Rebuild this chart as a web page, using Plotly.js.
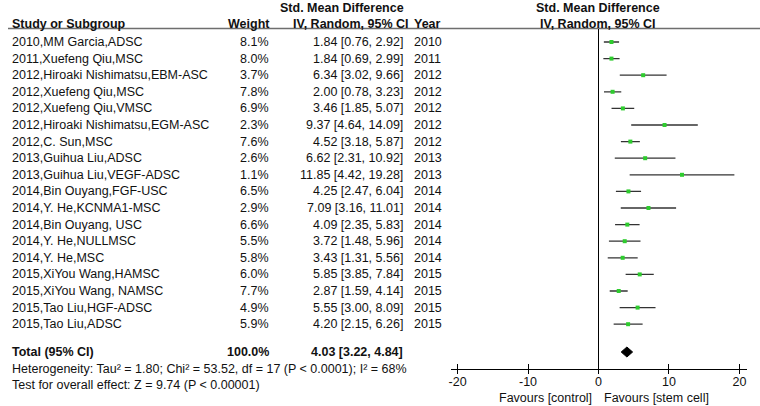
<!DOCTYPE html>
<html>
<head>
<meta charset="utf-8">
<script src="https://cdn.plot.ly/plotly-3.0.1.min.js"></script>
<style>html,body{margin:0;padding:0;background:#fff;} #chart{width:760px;height:406px;}</style>
</head>
<body>
<div id="chart"></div>
<script>
// ---- DATA ----
const studies = [
  "2010,MM Garcia,ADSC",
  "2011,Xuefeng Qiu,MSC",
  "2012,Hiroaki Nishimatsu,EBM-ASC",
  "2012,Xuefeng Qiu,MSC",
  "2012,Xuefeng Qiu,VMSC",
  "2012,Hiroaki Nishimatsu,EGM-ASC",
  "2012,C. Sun,MSC",
  "2013,Guihua Liu,ADSC",
  "2013,Guihua Liu,VEGF-ADSC",
  "2014,Bin Ouyang,FGF-USC",
  "2014,Y. He,KCNMA1-MSC",
  "2014,Bin Ouyang, USC",
  "2014,Y. He,NULLMSC",
  "2014,Y. He,MSC",
  "2015,XiYou Wang,HAMSC",
  "2015,XiYou Wang, NAMSC",
  "2015,Tao Liu,HGF-ADSC",
  "2015,Tao Liu,ADSC"
];
const weights = [8.1, 8.0, 3.7, 7.8, 6.9, 2.3, 7.6, 2.6, 1.1, 6.5, 2.9, 6.6, 5.5, 5.8, 6.0, 7.7, 4.9, 5.9];
const smd     = [1.84, 1.84, 6.34, 2.00, 3.46, 9.37, 4.52, 6.62, 11.85, 4.25, 7.09, 4.09, 3.72, 3.43, 5.85, 2.87, 5.55, 4.20];
const ciLow   = [0.76, 0.69, 3.02, 0.78, 1.85, 4.64, 3.18, 2.31, 4.42, 2.47, 3.16, 2.35, 1.48, 1.31, 3.85, 1.59, 3.00, 2.15];
const ciHigh  = [2.92, 2.99, 9.66, 3.23, 5.07, 14.09, 5.87, 10.92, 19.28, 6.04, 11.01, 5.83, 5.96, 5.56, 7.84, 4.14, 8.09, 6.26];
const years   = [2010, 2011, 2012, 2012, 2012, 2012, 2012, 2013, 2013, 2014, 2014, 2014, 2014, 2014, 2015, 2015, 2015, 2015];
const totalLabel = "Total (95% CI)";
const totalWeight = 100.0;
const totalSmd = 4.03, totalLow = 3.22, totalHigh = 4.84;
const heterogeneityText = "Heterogeneity: Tau² = 1.80; Chi² = 53.52, df = 17 (P < 0.0001); I² = 68%";
const overallText = "Test for overall effect: Z = 9.74 (P < 0.00001)";
const tickValues = [-20, -10, 0, 10, 20];
const tickLabels = ["-20", "-10", "0", "10", "20"];
const favourLeft = "Favours [control]";
const favourRight = "Favours [stem cell]";
const headerTop = "Std. Mean Difference";
const headerSub = "IV, Random, 95% CI";
const headerStudy = "Study or Subgroup";
const headerWeight = "Weight";
const headerYear = "Year";

// ---- LAYOUT HELPERS ----
const W = 760, H = 406;
const ROW0 = 42, ROWH = 16.6;           // pixel centre of first row, row pitch
const rowOf = p => (p - ROW0) / ROWH;    // pixel y -> row coordinate
const AXIS_PX = 369;
const FONT = "Liberation Sans, Arial, Helvetica, sans-serif";
const FS = 12.5;
const TXT = "#111111";
const rows = studies.map((_, i) => i);
const totalRow = rowOf(352);
const px = v => v / W;
const fmt2 = v => v.toFixed(2);
const ciText = (e, l, h) => fmt2(e) + " [" + fmt2(l) + ", " + fmt2(h) + "]";

const ann = [];
function addText(text, x, y, anchor, opts) {
  opts = opts || {};
  ann.push({
    text: opts.bold ? "<b>" + text + "</b>" : text,
    x: px(x), xref: "paper", y: y, yref: "y",
    xanchor: anchor, yanchor: "middle", showarrow: false,
    borderpad: 0, borderwidth: 0,
    font: {family: FONT, size: opts.size || FS, color: TXT}
  });
}
// headers
addText(headerTop, 342, rowOf(8), "center", {bold: true});
addText(headerStudy, 12, rowOf(24), "left", {bold: true});
addText(headerWeight, 270, rowOf(24), "right", {bold: true});
addText(headerSub, 409, rowOf(24), "right", {bold: true});
addText(headerYear, 414, rowOf(24), "left", {bold: true});
addText(headerTop, 598, rowOf(8), "center", {bold: true});
addText(headerSub, 598, rowOf(24), "center", {bold: true});
// rows
rows.forEach(i => {
  addText(studies[i], 12, i, "left");
  addText(weights[i].toFixed(1) + "%", 269, i, "right");
  addText(ciText(smd[i], ciLow[i], ciHigh[i]), 403, i, "right");
  addText(String(years[i]), 414, i, "left");
});
// total + footers
addText(totalLabel, 12, totalRow, "left", {bold: true});
addText(totalWeight.toFixed(1) + "%", 269, totalRow, "right", {bold: true});
addText(ciText(totalSmd, totalLow, totalHigh), 403, totalRow, "right", {bold: true});
addText(heterogeneityText, 12, rowOf(368.5), "left");
addText(overallText, 12, rowOf(385), "left");
addText(favourLeft, 592, rowOf(398), "right");
addText(favourRight, 604, rowOf(398), "left");

// ---- TRACES ----
const studyTrace = {
  type: "scatter", mode: "markers",
  x: smd, y: rows,
  marker: {symbol: "square", size: 4, color: "#2ecc2e", line: {width: 0}},
  error_x: {
    type: "data", symmetric: false,
    array: smd.map((v, i) => ciHigh[i] - v),
    arrayminus: smd.map((v, i) => v - ciLow[i]),
    width: 0, thickness: 1.3, color: "#333333"
  },
  hoverinfo: "skip", cliponaxis: false, showlegend: false
};
const dh = 5 / ROWH;
const diamond = {
  type: "scatter", mode: "lines",
  x: [totalLow, totalSmd, totalHigh, totalSmd, totalLow],
  y: [totalRow, totalRow - dh, totalRow, totalRow + dh, totalRow],
  fill: "toself", fillcolor: "#000000",
  line: {color: "#000000", width: 1},
  hoverinfo: "skip", cliponaxis: false, showlegend: false
};
const ghost = {type: "scatter", mode: "markers", x: [0], y: [0], xaxis: "x2", yaxis: "y",
  marker: {opacity: 0}, hoverinfo: "skip", showlegend: false};

const domainX = [450.5 / W, 746.5 / W];
const axisPos = 1 - AXIS_PX / H;
const layout = {
  width: W, height: H,
  margin: {l: 0, r: 0, t: 0, b: 0},
  paper_bgcolor: "#ffffff", plot_bgcolor: "rgba(0,0,0,0)",
  showlegend: false,
  xaxis: {
    domain: domainX, range: [-21, 21], anchor: "free", position: axisPos,
    showgrid: false, zeroline: false, showline: true, linecolor: "#000", linewidth: 1,
    ticks: "outside", ticklen: 4, tickwidth: 1, tickcolor: "#000",
    ticklabelstandoff: -3,
    tickvals: tickValues, ticktext: tickLabels,
    tickfont: {family: FONT, size: FS, color: TXT}
  },
  xaxis2: {
    domain: domainX, range: [-21, 21], overlaying: "x", anchor: "free", position: axisPos,
    showgrid: false, zeroline: false, showline: false,
    ticks: "inside", ticklen: 5, tickwidth: 1, tickcolor: "#000",
    tickvals: tickValues, showticklabels: false, side: "bottom"
  },
  yaxis: {
    domain: [0, 1], range: [rowOf(H), rowOf(0)],
    showgrid: false, zeroline: false, showline: false, showticklabels: false, ticks: ""
  },
  shapes: [
    {type: "line", xref: "paper", yref: "y", x0: px(8), x1: 1, y0: rowOf(28.5), y1: rowOf(28.5),
     line: {color: "#6e6e6e", width: 1.6}},
    {type: "line", xref: "x", yref: "y", x0: 0, x1: 0, y0: rowOf(29), y1: rowOf(AXIS_PX),
     line: {color: "#000000", width: 1}}
  ],
  annotations: ann
};
Plotly.newPlot("chart", [studyTrace, diamond, ghost], layout, {staticPlot: true, displayModeBar: false});
</script>
</body>
</html>
